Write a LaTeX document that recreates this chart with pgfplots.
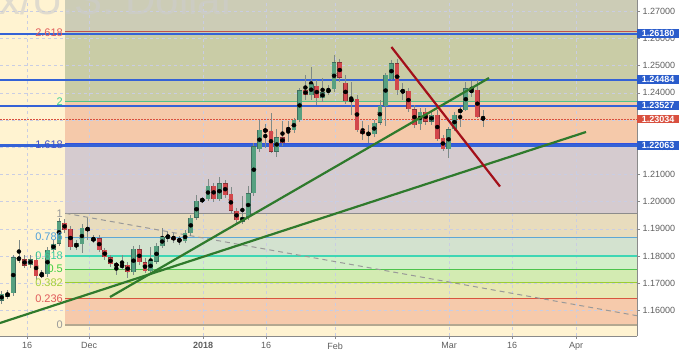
\documentclass[border=0pt]{standalone}
\usepackage{fontspec}
\setmainfont{Liberation Sans}
\usepackage{pgfplots}
\usepackage{pgfplotstable}
\pgfplotsset{compat=1.18}

\definecolor{bgc}{HTML}{FFF3D1}
\definecolor{bA}{HTML}{CCCCB6}
\definecolor{bB}{HTML}{C9CCA6}
\definecolor{bC}{HTML}{F5C9AA}
\definecolor{bD}{HTML}{D5CBCF}
\definecolor{bE}{HTML}{E8DCBD}
\definecolor{bF}{HTML}{D3E2CF}
\definecolor{bG}{HTML}{D2EFC9}
\definecolor{bH}{HTML}{D3EBB2}
\definecolor{bI}{HTML}{E8E8B4}
\definecolor{bJ}{HTML}{F6CAAB}
\definecolor{gridc}{HTML}{C9CDE3}
\definecolor{axisc}{HTML}{8A8A8A}
\definecolor{tickc}{HTML}{5E5E5E}
\definecolor{upfill}{HTML}{56A080}
\definecolor{upline}{HTML}{3F6E5E}
\definecolor{dnfill}{HTML}{D2474B}
\definecolor{dnline}{HTML}{8A3236}
\definecolor{wickc}{HTML}{7F8A87}
\definecolor{userblue}{HTML}{3462D6}
\definecolor{boxblue}{HTML}{2A5CCB}
\definecolor{boxred}{HTML}{D9503F}
\definecolor{trendg}{HTML}{2F7A2C}
\definecolor{trendr}{HTML}{A3101A}
\definecolor{fA}{HTML}{C0504D}
\definecolor{fB}{HTML}{52C38A}
\definecolor{fC}{HTML}{3050E0}
\definecolor{fD}{HTML}{8C8C8C}
\definecolor{fE}{HTML}{5EA7D6}
\definecolor{fF}{HTML}{3ED6B4}
\definecolor{fG}{HTML}{4CC44C}
\definecolor{fH}{HTML}{9ACD32}
\definecolor{fI}{HTML}{D8553F}
\definecolor{fJ}{HTML}{B4A890}
\definecolor{lA}{HTML}{E05A5A}
\definecolor{lB}{HTML}{3FCF8E}
\definecolor{lC}{HTML}{3F51C8}
\definecolor{lD}{HTML}{9A9A9A}
\definecolor{lE}{HTML}{4FA0DB}
\definecolor{lF}{HTML}{3CCF9F}
\definecolor{lG}{HTML}{3FCF3F}
\definecolor{lH}{HTML}{A5CF3F}

\pgfplotstableread{
x o h l c
1 1.16357 1.16713 1.16235 1.16603
2 1.16504 1.16750 1.16419 1.16651
3 1.16640 1.18037 1.16530 1.17963
4 1.17952 1.18588 1.17743 1.17853
5 1.17879 1.18037 1.17559 1.17651
6 1.17669 1.18037 1.17559 1.17879
7 1.17853 1.18147 1.17118 1.17265
8 1.17265 1.17485 1.17191 1.17338
9 1.17327 1.18331 1.17228 1.18221
10 1.18221 1.18588 1.18147 1.18460
11 1.18460 1.19397 1.18368 1.19287
12 1.19225 1.19361 1.18846 1.18956
13 1.18993 1.19103 1.18221 1.18331
14 1.18320 1.18588 1.18221 1.18467
15 1.18441 1.19177 1.18111 1.19030
16 1.19041 1.19397 1.18588 1.18938
17 1.18570 1.18772 1.18478 1.18651
18 1.18651 1.18772 1.18147 1.18221
19 1.18221 1.18294 1.17853 1.17952
20 1.17952 1.18037 1.17596 1.17695
21 1.17688 1.17780 1.17302 1.17658
22 1.17607 1.18037 1.17485 1.17669
23 1.17669 1.17780 1.17191 1.17401
24 1.17401 1.18368 1.17302 1.18258
25 1.18247 1.18405 1.17669 1.17769
26 1.17769 1.17927 1.17375 1.17449
27 1.17449 1.18331 1.17338 1.17827
28 1.17791 1.18478 1.17706 1.18368
29 1.18368 1.19030 1.18294 1.18699
30 1.18680 1.18883 1.18515 1.18747
31 1.18717 1.18846 1.18478 1.18588
32 1.18614 1.18736 1.18405 1.18552
33 1.18552 1.18956 1.18478 1.18846
34 1.18846 1.19508 1.18736 1.19408
35 1.19408 1.20243 1.19324 1.20033
36 1.20022 1.20180 1.19938 1.20085
37 1.20085 1.20820 1.20022 1.20585
38 1.20585 1.20684 1.19986 1.20096
39 1.20096 1.20916 1.20022 1.20673
40 1.20673 1.20794 1.20133 1.20243
41 1.20280 1.20548 1.19581 1.19666
42 1.19666 1.19765 1.19213 1.19324
43 1.19261 1.20206 1.19177 1.19445
44 1.19445 1.20574 1.19324 1.20305
45 1.20305 1.22166 1.20206 1.22044
46 1.21923 1.23000 1.21824 1.22633
47 1.22633 1.22853 1.21971 1.22596
48 1.22607 1.23258 1.21787 1.21835
49 1.21835 1.22669 1.21651 1.22364
50 1.22364 1.22963 1.22044 1.22144
51 1.22706 1.22963 1.22191 1.22622
52 1.22622 1.23074 1.22522 1.23000
53 1.22989 1.24177 1.22927 1.24085
54 1.24103 1.24655 1.23736 1.23919
55 1.23919 1.24960 1.23736 1.24313
56 1.24261 1.24471 1.23552 1.23798
57 1.23798 1.24555 1.23662 1.24019
58 1.24019 1.24287 1.23919 1.24140
59 1.24129 1.25390 1.24030 1.25122
60 1.25122 1.25243 1.24397 1.24555
61 1.24372 1.24655 1.23588 1.23699
62 1.23699 1.24397 1.23184 1.23772
63 1.23772 1.23919 1.22559 1.22633
64 1.22633 1.22975 1.22265 1.22475
65 1.22475 1.22816 1.22155 1.22511
66 1.22475 1.23000 1.22375 1.22901
67 1.22901 1.23736 1.22816 1.23526
68 1.23515 1.24728 1.22780 1.24655
69 1.24508 1.25206 1.24471 1.25085
70 1.25085 1.25243 1.23919 1.24103
71 1.24019 1.24360 1.23736 1.24103
72 1.24077 1.24177 1.23294 1.23394
73 1.23394 1.23552 1.22706 1.22816
74 1.22842 1.23441 1.22633 1.23305
75 1.23305 1.23441 1.22816 1.22938
76 1.22938 1.23368 1.22816 1.23184
77 1.23184 1.23368 1.22228 1.22302
78 1.22350 1.22449 1.21861 1.21923
79 1.21923 1.22743 1.21592 1.22658
80 1.22658 1.23294 1.22596 1.23184
81 1.23305 1.23478 1.22743 1.23368
82 1.23368 1.24397 1.23331 1.24166
83 1.24041 1.24445 1.23846 1.24103
84 1.24103 1.24471 1.23074 1.23100
85 1.23100 1.23368 1.22743 1.23034
}\candles

\begin{document}
\begin{tikzpicture}
\begin{axis}[
  at={(0pt,0pt)}, anchor=south west,
  scale only axis, width=637pt, height=336pt,
  xmin=0.70, xmax=111.87, ymin=1.15059, ymax=1.27412,
  set layers, clip mode=individual,
  axis x line*=bottom, axis y line*=right,
  axis line style={color=axisc, line width=0.8pt},
  tick style={color=axisc, line width=0.6pt},
  tick align=outside, major tick length=3pt,
  xtick={5.42,16.24,36.13,47.13,59.17,79.06,90.06,101.23},
  xticklabels={16,Dec,\textbf{2018},16,Feb,Mar,16,Apr},
  ytick={1.16,1.17,1.18,1.19,1.20,1.21,1.22,1.23,1.24,1.25,1.26,1.27},
  scaled y ticks=false,
  /pgf/number format/assume math mode=true,
  yticklabel style={font=\fontsize{9}{10}\selectfont, text=tickc, xshift=-1pt,
    /pgf/number format/.cd, fixed, fixed zerofill, precision=5},
  xticklabel style={font=\fontsize{9}{10}\selectfont, text=tickc},
  grid=major,
  major grid style={color=gridc, dash pattern=on 3pt off 3pt, line width=0.6pt},
]
% background and Fibonacci bands
\addplot[on layer=axis background, fill=bgc, draw=none] coordinates {(0,1.14) (113,1.14) (113,1.28) (0,1.28)};
\addplot[on layer=axis background, fill=bJ, draw=none] coordinates {(12.13,1.15463) (113,1.15463) (113,1.16432) (12.13,1.16432)};
\addplot[on layer=axis background, fill=bI, draw=none] coordinates {(12.13,1.16432) (113,1.16432) (113,1.17032) (12.13,1.17032)};
\addplot[on layer=axis background, fill=bH, draw=none] coordinates {(12.13,1.17032) (113,1.17032) (113,1.17517) (12.13,1.17517)};
\addplot[on layer=axis background, fill=bG, draw=none] coordinates {(12.13,1.17517) (113,1.17517) (113,1.18001) (12.13,1.18001)};
\addplot[on layer=axis background, fill=bF, draw=none] coordinates {(12.13,1.18001) (113,1.18001) (113,1.18691) (12.13,1.18691)};
\addplot[on layer=axis background, fill=bE, draw=none] coordinates {(12.13,1.18691) (113,1.18691) (113,1.19570) (12.13,1.19570)};
\addplot[on layer=axis background, fill=bD, draw=none] coordinates {(12.13,1.19570) (113,1.19570) (113,1.22108) (12.13,1.22108)};
\addplot[on layer=axis background, fill=bC, draw=none] coordinates {(12.13,1.22108) (113,1.22108) (113,1.23677) (12.13,1.23677)};
\addplot[on layer=axis background, fill=bB, draw=none] coordinates {(12.13,1.23677) (113,1.23677) (113,1.26215) (12.13,1.26215)};
\addplot[on layer=axis background, fill=bA, draw=none] coordinates {(12.13,1.26215) (113,1.26215) (113,1.28) (12.13,1.28)};

% watermark
\begin{scope}
\clip (rel axis cs:0,0) rectangle (rel axis cs:1,1);
\node[anchor=base east, text=black!20, opacity=0.6, font=\fontsize{42}{44}\selectfont, inner sep=0pt] at (axis cs:41.8,1.26897) {Euro Fx/U.S. Dollar};
\end{scope}

% Fibonacci level lines
\addplot[draw=fJ, line width=1.6pt] coordinates {(12.13,1.15463) (111.87,1.15463)};
\addplot[draw=fI, line width=1pt] coordinates {(12.13,1.16432) (111.87,1.16432)};
\addplot[draw=fH, line width=1pt] coordinates {(12.13,1.17032) (111.87,1.17032)};
\addplot[draw=fG, line width=1pt] coordinates {(12.13,1.17517) (111.87,1.17517)};
\addplot[draw=fF, line width=1.3pt] coordinates {(12.13,1.18001) (111.87,1.18001)};
\addplot[draw=fE, line width=1.1pt] coordinates {(12.13,1.18691) (111.87,1.18691)};
\addplot[draw=fD, line width=1.3pt] coordinates {(12.13,1.19570) (111.87,1.19570)};
\addplot[draw=fC, line width=1.6pt] coordinates {(12.13,1.22108) (111.87,1.22108)};
\addplot[draw=fB, line width=1.1pt] coordinates {(12.13,1.23677) (111.87,1.23677)};
\addplot[draw=fA, line width=1pt] coordinates {(12.13,1.26270) (111.87,1.26270)};

% user horizontal lines
\addplot[draw=userblue, line width=2pt] coordinates {(0.70,1.26180) (111.87,1.26180)};
\addplot[draw=userblue, line width=2pt] coordinates {(0.70,1.24484) (111.87,1.24484)};
\addplot[draw=userblue, line width=2pt] coordinates {(0.70,1.23527) (111.87,1.23527)};
\addplot[draw=userblue, line width=2.4pt] coordinates {(0.70,1.22063) (111.87,1.22063)};
\addplot[draw=boxred, line width=1pt, dash pattern=on 1.5pt off 1.5pt] coordinates {(0.70,1.23034) (111.87,1.23034)};

% dashed gray trend from fib 1
\addplot[draw=gray!80, line width=1pt, dash pattern=on 5pt off 4pt] coordinates {(12.13,1.19570) (111.87,1.15805)};

% candles: wicks
\addplot[only marks, mark=none, error bars/.cd, y dir=both, y explicit, error mark=none,
  error bar style={wickc, line width=0.8pt}]
  table[x=x, y expr={(\thisrow{h}+\thisrow{l})/2}, y error expr={(\thisrow{h}-\thisrow{l})/2}] {\candles};
% up bodies: outline then fill
\addplot[only marks, mark=none, unbounded coords=discard, error bars/.cd, y dir=both, y explicit, error mark=none,
  error bar style={upline, line width=4.8pt}]
  table[x=x, y expr={\thisrow{c}>=\thisrow{o} ? (\thisrow{o}+\thisrow{c})/2 : nan}, y error expr={max(abs(\thisrow{c}-\thisrow{o})/2,0.0004)}] {\candles};
\addplot[only marks, mark=none, unbounded coords=discard, error bars/.cd, y dir=both, y explicit, error mark=none,
  error bar style={upfill, line width=3.9pt}]
  table[x=x, y expr={\thisrow{c}>=\thisrow{o} ? (\thisrow{o}+\thisrow{c})/2 : nan}, y error expr={max(abs(\thisrow{c}-\thisrow{o})/2-0.00017,0.00023)}] {\candles};
% down bodies
\addplot[only marks, mark=none, unbounded coords=discard, error bars/.cd, y dir=both, y explicit, error mark=none,
  error bar style={dnline, line width=4.8pt}]
  table[x=x, y expr={\thisrow{c}<\thisrow{o} ? (\thisrow{o}+\thisrow{c})/2 : nan}, y error expr={max(abs(\thisrow{c}-\thisrow{o})/2,0.0004)}] {\candles};
\addplot[only marks, mark=none, unbounded coords=discard, error bars/.cd, y dir=both, y explicit, error mark=none,
  error bar style={dnfill, line width=3.9pt}]
  table[x=x, y expr={\thisrow{c}<\thisrow{o} ? (\thisrow{o}+\thisrow{c})/2 : nan}, y error expr={max(abs(\thisrow{c}-\thisrow{o})/2-0.00017,0.00023)}] {\candles};

% trend lines
\addplot[draw=trendg, line width=2.2pt] coordinates {(0,1.15489) (102.97,1.22559)};
\addplot[draw=trendg, line width=2.2pt] coordinates {(19.90,1.16492) (86.04,1.24544)};
\addplot[draw=trendr, line width=2.2pt] coordinates {(69.01,1.25684) (87.96,1.20555)};

% Fibonacci labels
\node[anchor=east, xshift=-2.5pt, inner sep=0pt, font=\fontsize{11}{12}\selectfont, text=lA] at (axis cs:12.13,1.26215) {2.618};
\node[anchor=east, xshift=-2.5pt, inner sep=0pt, font=\fontsize{11}{12}\selectfont, text=lB] at (axis cs:12.13,1.23677) {2};
\node[anchor=east, xshift=-2.5pt, inner sep=0pt, font=\fontsize{11}{12}\selectfont, text=lC] at (axis cs:12.13,1.22108) {1.618};
\node[anchor=east, xshift=-2.5pt, inner sep=0pt, font=\fontsize{11}{12}\selectfont, text=lD] at (axis cs:12.13,1.19570) {1};
\node[anchor=east, xshift=-2.5pt, inner sep=0pt, font=\fontsize{11}{12}\selectfont, text=lE] at (axis cs:12.13,1.18691) {0.786};
\node[anchor=east, xshift=-2.5pt, inner sep=0pt, font=\fontsize{11}{12}\selectfont, text=lF] at (axis cs:12.13,1.18001) {0.618};
\node[anchor=east, xshift=-2.5pt, inner sep=0pt, font=\fontsize{11}{12}\selectfont, text=lG] at (axis cs:12.13,1.17517) {0.5};
\node[anchor=east, xshift=-2.5pt, inner sep=0pt, font=\fontsize{11}{12}\selectfont, text=lH] at (axis cs:12.13,1.17032) {0.382};
\node[anchor=east, xshift=-2.5pt, inner sep=0pt, font=\fontsize{11}{12}\selectfont, text=lA] at (axis cs:12.13,1.16432) {0.236};
\node[anchor=east, xshift=-2.5pt, inner sep=0pt, font=\fontsize{11}{12}\selectfont, text=lD] at (axis cs:12.13,1.15463) {0};

% price boxes on the scale
\node[anchor=west, text=white, inner xsep=0pt, inner ysep=1.2pt, minimum width=42pt, font=\bfseries\fontsize{9}{10}\selectfont, fill=boxblue] at (axis cs:111.87,1.26180) {1.26180};
\node[anchor=west, text=white, inner xsep=0pt, inner ysep=1.2pt, minimum width=42pt, font=\bfseries\fontsize{9}{10}\selectfont, fill=boxblue] at (axis cs:111.87,1.24484) {1.24484};
\node[anchor=west, text=white, inner xsep=0pt, inner ysep=1.2pt, minimum width=42pt, font=\bfseries\fontsize{9}{10}\selectfont, fill=boxblue] at (axis cs:111.87,1.23527) {1.23527};
\node[anchor=west, text=white, inner xsep=0pt, inner ysep=1.2pt, minimum width=42pt, font=\bfseries\fontsize{9}{10}\selectfont, fill=boxred] at (axis cs:111.87,1.23034) {1.23034};
\node[anchor=west, text=white, inner xsep=0pt, inner ysep=1.2pt, minimum width=42pt, font=\bfseries\fontsize{9}{10}\selectfont, fill=boxblue] at (axis cs:111.87,1.22063) {1.22063};
\end{axis}
\pgfresetboundingbox
\path[use as bounding box] (0pt,-15pt) rectangle (680pt,336pt);
\end{tikzpicture}
\end{document}
